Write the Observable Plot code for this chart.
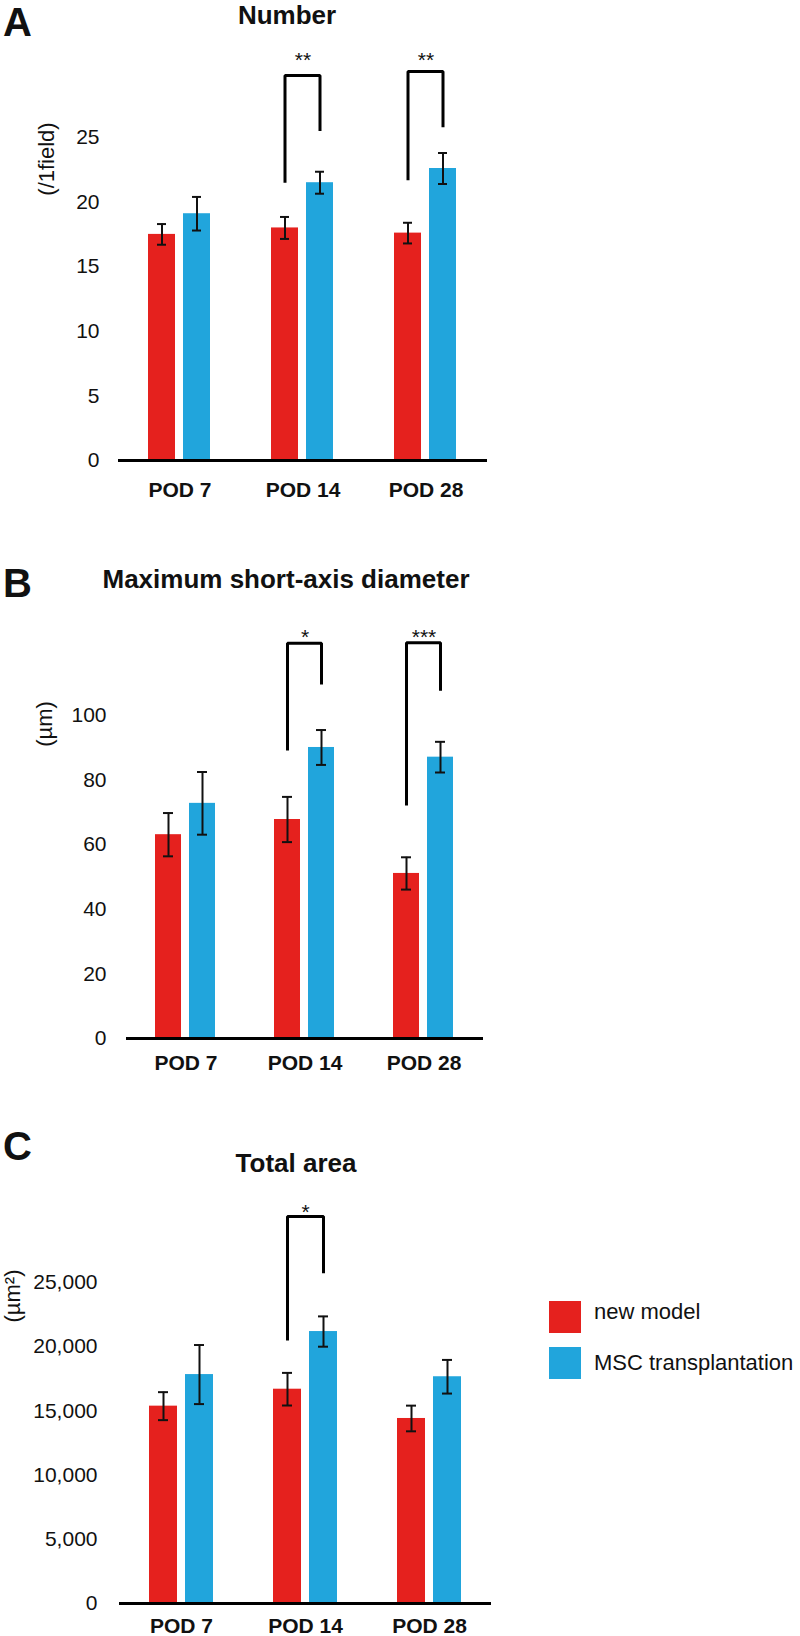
<!DOCTYPE html>
<html>
<head>
<meta charset="utf-8">
<script src="https://cdn.jsdelivr.net/npm/d3@7"></script>
<script src="https://cdn.jsdelivr.net/npm/@observablehq/plot@0.6"></script>
<style>
  html, body { margin: 0; padding: 0; background: #fff; }
  #page { position: relative; width: 800px; height: 1636px; overflow: hidden; background: #fff;
          font-family: "Liberation Sans", Arial, Helvetica, sans-serif; color: #111; }
  .abs { position: absolute; white-space: nowrap; }
  .letter { font-size: 40px; font-weight: bold; line-height: 44px; }
  .title { font-size: 26px; font-weight: bold; line-height: 30px; transform: translateX(-50%); }
  .unit { font-size: 22px; line-height: 22px; transform: translate(-50%, -50%) rotate(-90deg); }
  .legtext { font-size: 22px; line-height: 22px; }
  .swatch { position: absolute; width: 32px; height: 32px; }
</style>
</head>
<body>
<div id="page"></div>
<script>
// ---------- data ----------
const pods = ["POD 7", "POD 14", "POD 28"];
const groups = ["new model", "MSC transplantation"];
const groupColors = ["#E5211E", "#21A5DC"];

// Panel A: Number (/1field)
const numberNew = [17.5, 18.0, 17.6];
const numberNewErr = [0.8, 0.85, 0.8];
const numberMsc = [19.1, 21.5, 22.6];
const numberMscErr = [1.3, 0.85, 1.2];
const numberTicks = [0, 5, 10, 15, 20, 25];
const numberBrackets = [
  {pod: "POD 14", from: 21.5, top: 29.8, to: 25.5, star: 31.4, label: "**"},
  {pod: "POD 28", from: 21.7, top: 30.1, to: 25.8, star: 31.4, label: "**"}
];

// Panel B: Maximum short-axis diameter (µm)
const diamNew = [63.1, 67.8, 51.1];
const diamNewErr = [6.7, 7.0, 5.0];
const diamMsc = [72.8, 90.1, 87.1];
const diamMscErr = [9.7, 5.4, 4.75];
const diamTicks = [0, 20, 40, 60, 80, 100];
const diamBrackets = [
  {pod: "POD 14", from: 89.2, top: 122.4, to: 109.6, star: 125.7, label: "*"},
  {pod: "POD 28", from: 72.1, top: 122.5, to: 107.7, star: 125.7, label: "***"}
];

// Panel C: Total area (µm²)
const areaNew = [15370, 16690, 14410];
const areaNewErr = [1090, 1270, 1000];
const areaMsc = [17830, 21180, 17660];
const areaMscErr = [2300, 1180, 1310];
const areaTicks = [0, 5000, 10000, 15000, 20000, 25000];
const areaBrackets = [
  {pod: "POD 14", from: 20480, top: 30140, to: 25720, star: 30840, label: "*"}
];

// ---------- drawing ----------
function panel(cfg) {
  const rows = [];
  pods.forEach((p, i) => {
    rows.push({pod: p, group: groups[0], v: cfg.newVals[i], e: cfg.newErr[i]});
    rows.push({pod: p, group: groups[1], v: cfg.mscVals[i], e: cfg.mscErr[i]});
  });
  const bracketPts = cfg.brackets.flatMap(b => [
    {pod: b.pod, group: groups[0], y: b.from},
    {pod: b.pod, group: groups[0], y: b.top},
    {pod: b.pod, group: groups[1], y: b.top},
    {pod: b.pod, group: groups[1], y: b.to}
  ]);
  const ink = "#111";
  return Plot.plot({
    width: 520,
    height: cfg.height,
    marginTop: cfg.marginTop,
    marginBottom: cfg.marginBottom,
    marginLeft: cfg.marginLeft,
    marginRight: cfg.marginRight,
    style: {fontFamily: "'Liberation Sans', Arial, Helvetica, sans-serif", fontSize: "21px", color: ink, background: "transparent", overflow: "visible"},
    fx: {domain: pods, padding: 0, label: null, axis: null},
    x: {domain: groups, paddingInner: cfg.paddingInner, paddingOuter: cfg.paddingOuter, axis: null},
    y: {domain: [0, cfg.yMax], label: null, axis: null},
    color: {domain: groups, range: groupColors},
    marks: [
      Plot.barY(rows, {fx: "pod", x: "group", y: "v", fill: "group"}),
      Plot.ruleX(rows, {fx: "pod", x: "group", y1: d => d.v - d.e, y2: d => d.v + d.e, stroke: ink, strokeWidth: 2}),
      Plot.tickY(rows, {fx: "pod", x: "group", y: d => d.v - d.e, insetLeft: cfg.capInset, insetRight: cfg.capInset, stroke: ink, strokeWidth: 2}),
      Plot.tickY(rows, {fx: "pod", x: "group", y: d => d.v + d.e, insetLeft: cfg.capInset, insetRight: cfg.capInset, stroke: ink, strokeWidth: 2}),
      Plot.line(bracketPts, {fx: "pod", x: "group", y: "y", z: "pod", stroke: "#000", strokeWidth: 3, strokeLinejoin: "miter", strokeLinecap: "butt"}),
      Plot.text(cfg.brackets, {fx: "pod", y: "star", text: "label", fontSize: 21, dy: 5, fill: ink}),
      Plot.ruleY([0], {stroke: "#000", strokeWidth: 3}),
      Plot.axisY({ticks: cfg.ticks, tickSize: 0, tickPadding: cfg.tickPadding, line: true, stroke: "#000", strokeWidth: 3, fontSize: 21, label: null, tickFormat: cfg.tickFormat}),
      Plot.axisFx({anchor: "bottom", tickSize: 0, tickPadding: cfg.fxPadding, fontWeight: "bold", fontSize: 21, label: null})
    ]
  });
}

const page = document.getElementById("page");
function place(node, top) {
  const wrap = document.createElement("div");
  wrap.className = "abs";
  wrap.style.left = "0px";
  wrap.style.top = top + "px";
  wrap.appendChild(node);
  page.appendChild(wrap);
}
function addText(cls, text, left, top) {
  const d = document.createElement("div");
  d.className = "abs " + cls;
  d.textContent = text;
  d.style.left = left + "px";
  d.style.top = top + "px";
  page.appendChild(d);
}

place(panel({
  newVals: numberNew, newErr: numberNewErr, mscVals: numberMsc, mscErr: numberMscErr,
  brackets: numberBrackets, ticks: numberTicks, yMax: 25,
  height: 510, marginTop: 137, marginBottom: 50, marginLeft: 117, marginRight: 33,
  paddingInner: 0.222, paddingOuter: 0.824, capInset: 9, tickPadding: 19, fxPadding: 22,
  tickFormat: d3.format(",")
}), 0);

place(panel({
  newVals: diamNew, newErr: diamNewErr, mscVals: diamMsc, mscErr: diamMscErr,
  brackets: diamBrackets, ticks: diamTicks, yMax: 100,
  height: 560, marginTop: 195, marginBottom: 42, marginLeft: 126, marginRight: 37,
  paddingInner: 0.235, paddingOuter: 0.867, capInset: 8, tickPadding: 20, fxPadding: 17,
  tickFormat: d3.format(",")
}), 520);

place(panel({
  newVals: areaNew, newErr: areaNewErr, mscVals: areaMsc, mscErr: areaMscErr,
  brackets: areaBrackets, ticks: areaTicks, yMax: 25000,
  height: 556, marginTop: 202, marginBottom: 33, marginLeft: 119, marginRight: 29,
  paddingInner: 0.222, paddingOuter: 0.833, capInset: 9, tickPadding: 22, fxPadding: 15,
  tickFormat: d3.format(",")
}), 1080);

// panel letters and titles (line boxes kept inside the page)
addText("letter", "A", 3, 0);
addText("letter", "B", 3, 561);
addText("letter", "C", 3, 1124);
addText("title", "Number", 287, 0);
addText("title", "Maximum short-axis diameter", 286, 564);
addText("title", "Total area", 296, 1148);

// y-axis unit labels
addText("unit", "(/1field)", 47, 159);
addText("unit", "(µm)", 45, 724);
addText("unit", "(µm²)", 13, 1296);

// legend
groups.forEach((g, i) => {
  const sw = document.createElement("div");
  sw.className = "swatch";
  sw.style.left = "549px";
  sw.style.top = (i === 0 ? 1301 : 1347) + "px";
  sw.style.background = groupColors[i];
  page.appendChild(sw);
  addText("legtext", g, 594, i === 0 ? 1301 : 1352);
});
</script>
</body>
</html>
